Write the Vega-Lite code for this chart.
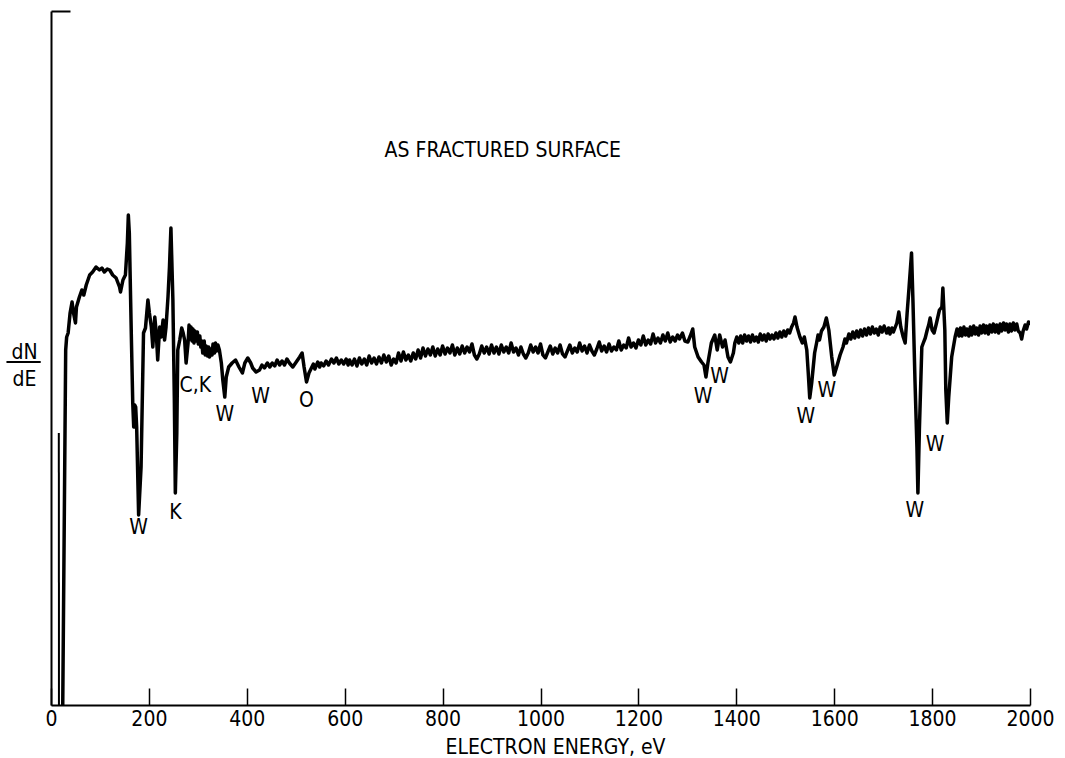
{
"$schema": "https://vega.github.io/schema/vega-lite/v6.json",
"width": 979, "height": 694,
"autosize": {"type": "none"},
"padding": {"left": 51, "top": 11, "right": 35, "bottom": 53},
"background": "white",
"config": {"view": {"stroke": null}},
"datasets": {
"spike": [{"e":16,"v":272},{"e":16.3,"v":0}],
"curve": [
{"e":24,"v":0},{"e":30,"v":355},{"e":32,"v":368},{"e":35,"v":372},{"e":39,"v":392},{"e":43,"v":403},{"e":46,"v":392},{"e":50,"v":382},{"e":52,"v":398},{"e":58,"v":408},{"e":63,"v":415},{"e":67,"v":410},{"e":72,"v":420},{"e":79,"v":430},{"e":85,"v":433},{"e":92,"v":438},{"e":99,"v":435},{"e":104,"v":437},{"e":109,"v":433},{"e":115,"v":436},{"e":120,"v":435},{"e":126,"v":430},{"e":133,"v":427},{"e":140,"v":418},{"e":142,"v":413},{"e":147,"v":425},{"e":152,"v":430},{"e":156,"v":462},{"e":158,"v":490},{"e":160,"v":472},{"e":164,"v":372},{"e":167,"v":302},{"e":169,"v":278},{"e":171,"v":300},{"e":173,"v":298},{"e":175,"v":278},{"e":179,"v":190},{"e":184,"v":238},{"e":189,"v":372},{"e":193,"v":377},{"e":198,"v":405},{"e":201,"v":392},{"e":205,"v":378},{"e":208,"v":358},{"e":212,"v":388},{"e":215,"v":372},{"e":218,"v":345},{"e":222,"v":378},{"e":225,"v":368},{"e":229,"v":385},{"e":232,"v":365},{"e":235,"v":378},{"e":239,"v":408},{"e":242,"v":438},{"e":245,"v":477},{"e":249,"v":405},{"e":252,"v":305},{"e":254,"v":212},{"e":257,"v":272},{"e":259,"v":355},{"e":263,"v":365},{"e":267,"v":377},{"e":270,"v":372},{"e":273,"v":365},{"e":276,"v":342},{"e":280,"v":362},{"e":282,"v":380},{"e":284,"v":366},{"e":286,"v":378},{"e":288,"v":364},{"e":290,"v":376},{"e":292,"v":362},{"e":294,"v":374},{"e":297,"v":364},{"e":299,"v":373},{"e":301,"v":361},{"e":304,"v":369},{"e":306,"v":358},{"e":308,"v":364},{"e":310,"v":352},{"e":313,"v":364},{"e":315,"v":350},{"e":317,"v":359},{"e":320,"v":349},{"e":322,"v":358},{"e":324,"v":348},{"e":327,"v":356},{"e":329,"v":350},{"e":331,"v":361},{"e":334,"v":352},{"e":336,"v":362},{"e":338,"v":354},{"e":341,"v":360},{"e":344,"v":355},{"e":348,"v":342},{"e":351,"v":325},{"e":355,"v":308},{"e":358,"v":328},{"e":363,"v":338},{"e":370,"v":342},{"e":377,"v":345},{"e":384,"v":338},{"e":391,"v":332},{"e":396,"v":342},{"e":402,"v":347},{"e":408,"v":342},{"e":412,"v":337},{"e":419,"v":333},{"e":426,"v":335},{"e":431,"v":340},{"e":436,"v":337},{"e":442,"v":342},{"e":447,"v":338},{"e":452,"v":342},{"e":457,"v":339},{"e":462,"v":345},{"e":467,"v":340},{"e":472,"v":344},{"e":477,"v":340},{"e":482,"v":346},{"e":487,"v":342},{"e":494,"v":338},{"e":501,"v":343},{"e":508,"v":348},{"e":513,"v":352},{"e":517,"v":338},{"e":522,"v":323},{"e":527,"v":332},{"e":532,"v":337},{"e":536,"v":341},{"e":539,"v":336},{"e":545,"v":343},{"e":549,"v":338},{"e":552,"v":342},{"e":557,"v":339},{"e":562,"v":344},{"e":567,"v":340},{"e":573,"v":346},{"e":578,"v":342},{"e":583,"v":347},{"e":588,"v":341},{"e":593,"v":345},{"e":598,"v":341},{"e":603,"v":346},{"e":607,"v":340},{"e":610,"v":345},
{"e":615,"v":340},{"e":620,"v":346},{"e":625,"v":339},{"e":630,"v":347},{"e":635,"v":341},{"e":640,"v":346},{"e":645,"v":340},{"e":650,"v":349},{"e":655,"v":342},{"e":660,"v":347},{"e":665,"v":341},{"e":670,"v":348},{"e":675,"v":342},{"e":680,"v":350},{"e":685,"v":343},{"e":690,"v":349},{"e":695,"v":340},{"e":700,"v":346},{"e":705,"v":342},{"e":710,"v":352},{"e":715,"v":344},{"e":720,"v":353},{"e":725,"v":345},{"e":730,"v":350},{"e":735,"v":344},{"e":740,"v":352},{"e":745,"v":346},{"e":750,"v":355},{"e":755,"v":347},{"e":760,"v":357},{"e":765,"v":349},{"e":770,"v":356},{"e":775,"v":350},{"e":780,"v":358},{"e":785,"v":349},{"e":790,"v":356},{"e":795,"v":350},{"e":800,"v":359},{"e":805,"v":351},{"e":810,"v":357},{"e":815,"v":352},{"e":820,"v":360},{"e":825,"v":350},{"e":830,"v":357},{"e":835,"v":351},{"e":840,"v":359},{"e":845,"v":352},{"e":850,"v":358},{"e":855,"v":353},{"e":860,"v":361},{"e":865,"v":350},{"e":870,"v":346},{"e":875,"v":351},{"e":880,"v":359},{"e":885,"v":352},{"e":890,"v":358},{"e":895,"v":351},{"e":900,"v":360},{"e":905,"v":352},{"e":910,"v":358},{"e":915,"v":351},{"e":920,"v":360},{"e":925,"v":353},{"e":930,"v":358},{"e":935,"v":352},{"e":940,"v":362},{"e":945,"v":353},{"e":950,"v":357},{"e":955,"v":350},{"e":960,"v":358},{"e":965,"v":351},{"e":970,"v":347},{"e":975,"v":352},{"e":980,"v":360},{"e":985,"v":353},{"e":990,"v":358},{"e":995,"v":352},{"e":1000,"v":361},{"e":1005,"v":350},{"e":1010,"v":347},{"e":1015,"v":353},{"e":1020,"v":359},{"e":1025,"v":351},{"e":1030,"v":357},{"e":1035,"v":352},{"e":1040,"v":360},{"e":1045,"v":351},{"e":1050,"v":348},{"e":1055,"v":354},{"e":1060,"v":360},{"e":1065,"v":352},{"e":1070,"v":357},{"e":1075,"v":353},{"e":1080,"v":362},{"e":1085,"v":354},{"e":1090,"v":359},{"e":1095,"v":352},{"e":1100,"v":360},{"e":1105,"v":354},{"e":1110,"v":350},{"e":1115,"v":356},{"e":1120,"v":363},{"e":1125,"v":354},{"e":1130,"v":359},{"e":1135,"v":353},{"e":1140,"v":361},{"e":1145,"v":354},{"e":1150,"v":358},{"e":1155,"v":355},{"e":1160,"v":364},{"e":1165,"v":355},{"e":1170,"v":360},{"e":1175,"v":357},{"e":1180,"v":367},{"e":1185,"v":358},{"e":1190,"v":362},{"e":1195,"v":357},{"e":1200,"v":365},{"e":1205,"v":360},{"e":1210,"v":369},{"e":1215,"v":360},{"e":1220,"v":365},{"e":1225,"v":361},{"e":1230,"v":371},{"e":1235,"v":362},{"e":1240,"v":367},{"e":1245,"v":362},{"e":1250,"v":370},{"e":1255,"v":364},{"e":1260,"v":372},{"e":1265,"v":363},{"e":1270,"v":368},{"e":1275,"v":364},{"e":1280,"v":370},
{"e":1284,"v":366},{"e":1290,"v":372},{"e":1295,"v":364},{"e":1301,"v":363},{"e":1306,"v":369},{"e":1311,"v":376},{"e":1315,"v":358},{"e":1322,"v":348},{"e":1329,"v":343},{"e":1334,"v":340},{"e":1338,"v":328},{"e":1342,"v":342},{"e":1349,"v":362},{"e":1356,"v":370},{"e":1361,"v":355},{"e":1366,"v":370},{"e":1372,"v":358},{"e":1377,"v":365},{"e":1383,"v":348},{"e":1388,"v":343},{"e":1394,"v":352},{"e":1397,"v":362},{"e":1401,"v":368},{"e":1405,"v":362},{"e":1409,"v":369},{"e":1413,"v":362},{"e":1417,"v":370},{"e":1421,"v":364},{"e":1425,"v":369},{"e":1429,"v":363},{"e":1433,"v":370},{"e":1437,"v":364},{"e":1441,"v":368},{"e":1445,"v":363},{"e":1449,"v":371},{"e":1453,"v":365},{"e":1457,"v":370},{"e":1461,"v":364},{"e":1465,"v":371},{"e":1469,"v":366},{"e":1473,"v":370},{"e":1477,"v":366},{"e":1481,"v":372},{"e":1485,"v":367},{"e":1489,"v":373},{"e":1493,"v":368},{"e":1497,"v":374},{"e":1501,"v":369},{"e":1505,"v":375},{"e":1509,"v":372},{"e":1513,"v":378},{"e":1517,"v":382},{"e":1520,"v":388},{"e":1524,"v":378},{"e":1530,"v":368},{"e":1535,"v":362},{"e":1539,"v":368},{"e":1544,"v":355},{"e":1547,"v":332},{"e":1550,"v":307},{"e":1554,"v":322},{"e":1560,"v":352},{"e":1564,"v":362},{"e":1567,"v":370},{"e":1570,"v":365},{"e":1574,"v":374},{"e":1579,"v":378},{"e":1584,"v":387},{"e":1589,"v":375},{"e":1595,"v":348},{"e":1600,"v":330},{"e":1605,"v":338},{"e":1612,"v":350},{"e":1618,"v":358},{"e":1622,"v":366},{"e":1625,"v":362},{"e":1630,"v":371},{"e":1634,"v":366},{"e":1638,"v":373},{"e":1642,"v":367},{"e":1646,"v":374},{"e":1650,"v":368},{"e":1654,"v":375},{"e":1658,"v":369},{"e":1662,"v":376},{"e":1666,"v":370},{"e":1670,"v":377},{"e":1674,"v":371},{"e":1678,"v":378},{"e":1682,"v":372},{"e":1686,"v":376},{"e":1690,"v":370},{"e":1694,"v":378},{"e":1698,"v":373},{"e":1702,"v":379},{"e":1707,"v":372},{"e":1711,"v":377},{"e":1714,"v":371},{"e":1718,"v":377},{"e":1721,"v":373},{"e":1728,"v":382},{"e":1732,"v":393},{"e":1736,"v":378},{"e":1741,"v":368},{"e":1745,"v":362},{"e":1749,"v":392},{"e":1753,"v":418},{"e":1758,"v":452},{"e":1761,"v":402},{"e":1765,"v":325},{"e":1769,"v":258},{"e":1771,"v":212},{"e":1774,"v":275},{"e":1779,"v":358},{"e":1782,"v":362},{"e":1786,"v":367},{"e":1790,"v":375},{"e":1793,"v":380},{"e":1796,"v":387},{"e":1800,"v":375},{"e":1804,"v":372},{"e":1809,"v":382},{"e":1815,"v":395},{"e":1820,"v":398},{"e":1822,"v":417},{"e":1826,"v":375},{"e":1828,"v":315},{"e":1831,"v":282},{"e":1834,"v":308},{"e":1840,"v":348},{"e":1847,"v":368},{"e":1851,"v":376},{"e":1855,"v":369},{"e":1858,"v":377},{"e":1861,"v":369},{"e":1865,"v":378},{"e":1868,"v":370},{"e":1871,"v":376},{"e":1875,"v":369},{"e":1878,"v":378},{"e":1881,"v":370},{"e":1885,"v":379},{"e":1888,"v":371},{"e":1891,"v":377},{"e":1895,"v":370},{"e":1898,"v":379},{"e":1901,"v":372},{"e":1905,"v":380},{"e":1908,"v":372},{"e":1911,"v":379},{"e":1915,"v":371},{"e":1918,"v":380},{"e":1922,"v":373},{"e":1925,"v":381},{"e":1929,"v":373},{"e":1932,"v":380},{"e":1936,"v":372},{"e":1939,"v":381},{"e":1942,"v":374},{"e":1946,"v":382},{"e":1949,"v":375},{"e":1952,"v":381},{"e":1956,"v":373},{"e":1959,"v":381},{"e":1962,"v":374},{"e":1966,"v":382},{"e":1969,"v":375},{"e":1973,"v":381},{"e":1976,"v":374},{"e":1980,"v":372},{"e":1983,"v":366},{"e":1986,"v":374},{"e":1990,"v":380},{"e":1993,"v":376},{"e":1997,"v":383},{"e":2000,"v":380}
],
"labels": [
{"e":179,"v":177,"t":"W"},{"e":254,"v":192,"t":"K"},{"e":295,"v":319,"t":"C,K"},{"e":355,"v":290,"t":"W"},{"e":428,"v":308,"t":"W"},{"e":522,"v":304,"t":"O"},{"e":1332,"v":308,"t":"W"},{"e":1366,"v":328,"t":"W"},{"e":1542,"v":288,"t":"W"},{"e":1585,"v":314,"t":"W"},{"e":1765,"v":194,"t":"W"},{"e":1806,"v":260,"t":"W"},{"e":923,"v":554,"t":"AS FRACTURED SURFACE"}
]
},
"layer": [
{
"data": {"name": "curve"},
"mark": {"type": "line", "color": "black", "strokeWidth": 3.5, "strokeJoin": "round", "clip": true},
"encoding": {
"x": {"field": "e", "type": "quantitative", "scale": {"domain": [0, 2000], "nice": false},
"axis": {"title": "ELECTRON ENERGY, eV", "values": [0,200,400,600,800,1000,1200,1400,1600,1800,2000], "format": "d", "grid": false, "tickSize": -17, "tickColor": "black", "tickWidth": 1.5, "domainColor": "black", "domainWidth": 2, "labelFont": "DejaVu Sans Condensed, Liberation Sans", "labelFontSize": 21, "labelColor": "black", "labelPadding": 20, "labelFlush": false, "labelOverlap": false, "titleFont": "DejaVu Sans Condensed, Liberation Sans", "titleFontSize": 21, "titleFontWeight": "normal", "titleColor": "black", "titleBaseline": "middle", "titleY": 42, "titleX": 504}},
"y": {"field": "v", "type": "quantitative", "scale": {"domain": [0, 694], "nice": false, "zero": false},
"axis": {"values": [694], "labels": false, "grid": false, "tickSize": -19, "tickWidth": 2, "tickColor": "black", "domainColor": "black", "domainWidth": 2, "title": ["dN", "dE"], "titleAngle": 0, "titleX": -27, "titleY": 347, "titleAlign": "center", "titleBaseline": "alphabetic", "titleLineHeight": 27, "titleFont": "DejaVu Sans Condensed, Liberation Sans", "titleFontSize": 21, "titleFontWeight": "normal", "titleColor": "black"}}
}
},
{
"data": {"name": "spike"},
"mark": {"type": "line", "color": "black", "strokeWidth": 2},
"encoding": {
"x": {"field": "e", "type": "quantitative"},
"y": {"field": "v", "type": "quantitative"}
}
},
{
"data": {"values": [{}]},
"mark": {"type": "rule", "color": "black", "strokeWidth": 2, "clip": false},
"encoding": {
"x": {"datum": -91, "type": "quantitative"},
"x2": {"datum": -21},
"y": {"datum": 343, "type": "quantitative"}
}
},
{
"data": {"name": "labels"},
"mark": {"type": "text", "font": "DejaVu Sans Condensed, Liberation Sans", "fontSize": 21, "color": "black", "align": "center", "baseline": "middle"},
"encoding": {
"x": {"field": "e", "type": "quantitative"},
"y": {"field": "v", "type": "quantitative"},
"text": {"field": "t"}
}
}
]
}
